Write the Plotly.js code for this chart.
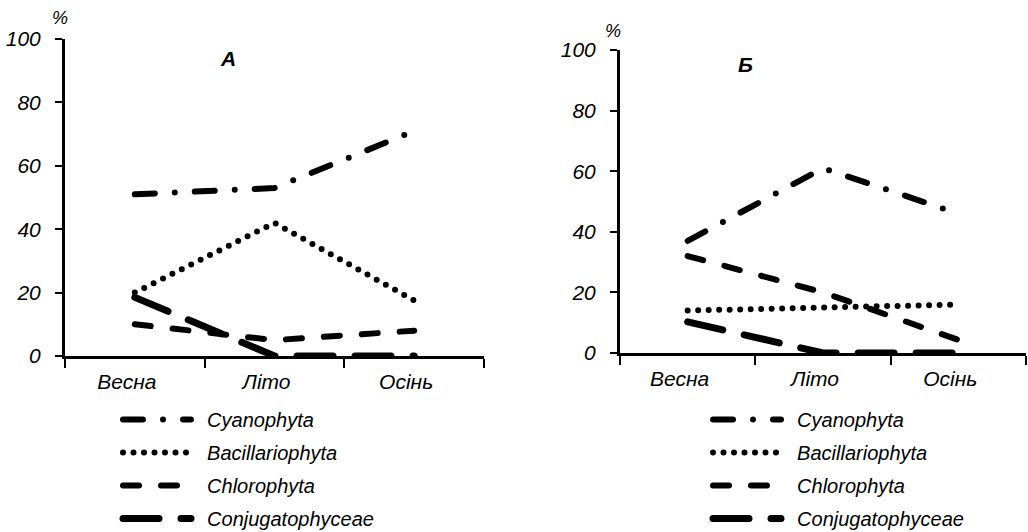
<!DOCTYPE html>
<html>
<head>
<meta charset="utf-8">
<script src="https://cdn.plot.ly/plotly-3.0.1.min.js"></script>
<style>
html, body { margin: 0; padding: 0; background: #fff; }
#chart { width: 1028px; height: 532px; }
.scatterlayer .js-line, .legendlines path { stroke-linecap: round; stroke-linejoin: round; }
</style>
</head>
<body>
<div id="chart"></div>
<script>
// ---- data ----
var seasons = ['Весна', 'Літо', 'Осінь'];
var groups = ['Cyanophyta', 'Bacillariophyta', 'Chlorophyta', 'Conjugatophyceae'];

// Panel A
var aCyanophyta = [51, 53, 71];
var aBacillariophyta = [20, 42, 17.5];
var aChlorophyta = [10, 5, 8];
var aConjugatophyceae = [18.5, 0, 0];

// Panel Б
var bCyanophyta = [37, 61, 46];
var bBacillariophyta = [14, 15, 16];
var bChlorophyta = [32, 20, 4.3];
var bConjugatophyceae = [10.3, 0, 0];

var yTicks = [0, 20, 40, 60, 80, 100];
var panelTitles = ['A', 'Б'];

// ---- styles ----
var styles = [
  {width: 6, dash: '20px,20px,0px,20px'},
  {width: 6, dash: '0px,10.5px'},
  {width: 6, dash: '16px,22px'},
  {width: 7, dash: '36px,22px'}
];
var fontFam = 'Liberation Sans, Arial, sans-serif';
var NB = '\u00A0\u00A0';

var aSeries = [aCyanophyta, aBacillariophyta, aChlorophyta, aConjugatophyceae];
var bSeries = [bCyanophyta, bBacillariophyta, bChlorophyta, bConjugatophyceae];

var traces = [];
function addPanel(series, xa, ya, leg, suffix) {
  series.forEach(function (vals, i) {
    traces.push({
      type: 'scatter', mode: 'lines',
      x: seasons, y: vals, name: NB + groups[i],
      xaxis: xa, yaxis: ya, legend: leg,
      legendgroup: suffix + i,
      line: {color: '#000', width: styles[i].width, dash: styles[i].dash},
      hoverinfo: 'skip'
    });
  });
}
addPanel(aSeries, 'x', 'y', 'legend', 'a');
addPanel(bSeries, 'x2', 'y2', 'legend2', 'b');

var W = 1028, H = 532;
function px(v) { return v / W; }
function py(v) { return (H - v) / H; }

var tickFont = {family: fontFam, size: 21, color: '#000', style: 'italic'};

function xAxis(d0, d1, anchor) {
  return {
    domain: [px(d0), px(d1)], anchor: anchor,
    type: 'category', range: [-0.5, 2.5],
    showline: true, linewidth: 3, linecolor: '#000',
    ticks: 'outside', tickson: 'boundaries', ticklen: 9, tickwidth: 2, tickcolor: '#000',
    showgrid: false, zeroline: false,
    tickfont: tickFont, ticklabelshift: -8, ticklabelstandoff: 5,
    fixedrange: true
  };
}
function yAxis(top, bottom, anchor) {
  return {
    domain: [py(bottom), py(top)], anchor: anchor,
    range: [0, 100], tickvals: yTicks,
    showline: true, linewidth: 3, linecolor: '#000',
    ticks: 'outside', ticklen: 7, tickwidth: 2, tickcolor: '#000',
    showgrid: false, zeroline: false,
    tickfont: tickFont, ticklabelstandoff: 10,
    fixedrange: true
  };
}

var legendBase = {
  font: {family: fontFam, size: 20, color: '#000', style: 'italic'},
  bgcolor: 'rgba(0,0,0,0)', borderwidth: 0,
  xanchor: 'left', yanchor: 'top',
  traceorder: 'grouped', tracegroupgap: 4, itemwidth: 68,
  itemclick: false, itemdoubleclick: false
};

var layout = {
  width: W, height: H,
  margin: {l: 0, r: 0, t: 0, b: 0, autoexpand: false},
  paper_bgcolor: '#fff', plot_bgcolor: '#fff',
  showlegend: true,
  xaxis: xAxis(65, 484, 'y'),
  yaxis: yAxis(39, 356, 'x'),
  xaxis2: xAxis(620, 1026, 'y2'),
  yaxis2: yAxis(50, 353, 'x2'),
  legend: Object.assign({}, legendBase, {x: px(118), y: py(400)}),
  legend2: Object.assign({}, legendBase, {x: px(708), y: py(400)}),
  annotations: [
    {text: panelTitles[0], xref: 'paper', yref: 'paper', x: px(228), y: py(58),
     xanchor: 'center', yanchor: 'middle', showarrow: false,
     font: {family: fontFam, size: 21, color: '#000', weight: 'bold', style: 'italic'}},
    {text: panelTitles[1], xref: 'paper', yref: 'paper', x: px(745), y: py(65),
     xanchor: 'center', yanchor: 'middle', showarrow: false,
     font: {family: fontFam, size: 21, color: '#000', weight: 'bold', style: 'italic'}},
    {text: '%', xref: 'paper', yref: 'paper', x: px(60), y: py(18),
     xanchor: 'center', yanchor: 'middle', showarrow: false,
     font: {family: fontFam, size: 18, color: '#000', style: 'italic'}},
    {text: '%', xref: 'paper', yref: 'paper', x: px(613), y: py(31),
     xanchor: 'center', yanchor: 'middle', showarrow: false,
     font: {family: fontFam, size: 18, color: '#000', style: 'italic'}}
  ]
};

Plotly.newPlot('chart', traces, layout, {displayModeBar: false, staticPlot: true});
</script>
</body>
</html>
